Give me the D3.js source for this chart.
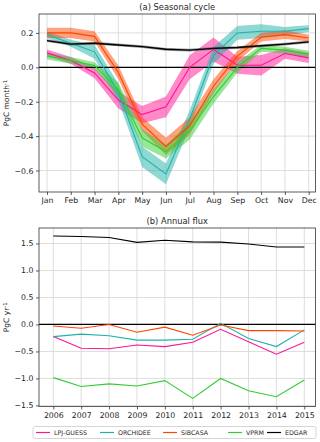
<!DOCTYPE html>
<html><head><meta charset="utf-8">
<script src="https://cdn.jsdelivr.net/npm/d3@7"></script>
<style>body{margin:0;background:#fff}svg{display:block;font-family:"DejaVu Sans",sans-serif}</style>
</head><body><svg id="c" width="320" height="442"></svg>
<script>
const months = ["Jan","Feb","Mar","Apr","May","Jun","Jul","Aug","Sep","Oct","Nov","Dec"];
const years = [2006,2007,2008,2009,2010,2011,2012,2013,2014,2015];
const seriesNames = ["LPJ-GUESS","ORCHIDEE","SiBCASA","VPRM","EDGAR"];
const seriesColors = ["#ff1493","#20b2aa","#ff4500","#32cd32","#000000"];

// (a) seasonal mean
const lpjSeason   = [0.084,0.04,-0.033,-0.19,-0.275,-0.23,0.0,0.104,0.012,0.012,0.08,0.055];
const orchSeason  = [0.19,0.14,0.09,-0.145,-0.52,-0.62,-0.30,0.07,0.20,0.21,0.21,0.225];
const sibSeason   = [0.20,0.20,0.18,-0.03,-0.33,-0.46,-0.34,-0.11,0.065,0.175,0.19,0.17];
const vprmSeason  = [0.065,0.04,0.01,-0.13,-0.41,-0.49,-0.37,-0.17,0.0,0.11,0.10,0.076];
const edgarSeason = [0.155,0.135,0.14,0.13,0.12,0.105,0.10,0.11,0.115,0.125,0.135,0.148];
// (a) band half-widths
const lpjSpread   = [0.02,0.02,0.03,0.05,0.05,0.06,0.07,0.07,0.05,0.06,0.03,0.03];
const orchSpread  = [0.02,0.02,0.04,0.05,0.06,0.06,0.05,0.05,0.04,0.04,0.025,0.02];
const sibSpread   = [0.03,0.03,0.03,0.04,0.04,0.05,0.05,0.04,0.03,0.025,0.025,0.02];
const vprmSpread  = [0.02,0.02,0.02,0.04,0.05,0.04,0.05,0.04,0.03,0.02,0.02,0.02];
const edgarSpread = [0.008,0.008,0.008,0.008,0.008,0.008,0.008,0.008,0.008,0.008,0.008,0.008];

// (b) annual flux
const lpjAnnual   = [-0.225,-0.44,-0.45,-0.38,-0.41,-0.33,-0.09,-0.32,-0.55,-0.33];
const orchAnnual  = [-0.225,-0.18,-0.21,-0.29,-0.29,-0.275,0.02,-0.26,-0.41,-0.10];
const sibAnnual   = [-0.03,-0.07,0.0,-0.145,-0.05,-0.20,-0.01,-0.115,-0.115,-0.12];
const vprmAnnual  = [-0.985,-1.15,-1.10,-1.14,-1.04,-1.37,-1.00,-1.23,-1.34,-1.03];
const edgarAnnual = [1.64,1.63,1.61,1.52,1.56,1.53,1.525,1.49,1.435,1.435];

const ticksA = [-0.6,-0.4,-0.2,0.0,0.2];
const ticksB = [-1.5,-1.0,-0.5,0.0,0.5,1.0,1.5];

const svg = d3.select("#c");
const L = 39, R = 315.5;
const gridCol = "#d9d9d9", spineCol = "#333";

function panel(opts){
  const g = svg.append("g");
  const {x, y, xTicks, yTicks, top, bottom} = opts;
  g.selectAll(".vg").data(xTicks).join("line")
    .attr("x1",d=>x(d)).attr("x2",d=>x(d)).attr("y1",top).attr("y2",bottom)
    .attr("stroke",gridCol).attr("stroke-width",0.9);
  g.selectAll(".hg").data(yTicks).join("line")
    .attr("x1",L).attr("x2",R).attr("y1",d=>y(d)).attr("y2",d=>y(d))
    .attr("stroke",gridCol).attr("stroke-width",0.9);
  return g;
}
function axes(g, opts){
  const {x, y, xTicks, xFmt, yTicks, yFmt, top, bottom} = opts;
  const ax = d3.axisBottom(x).tickValues(xTicks).tickFormat(xFmt).tickSize(3).tickPadding(2.5);
  const gx = g.append("g").attr("transform",`translate(0,${bottom})`).call(ax);
  const ay = d3.axisLeft(y).tickValues(yTicks).tickFormat(yFmt).tickSize(3).tickPadding(2.5);
  const gy = g.append("g").attr("transform",`translate(${L},0)`).call(ay);
  [gx,gy].forEach(a=>{
    a.select(".domain").remove();
    a.selectAll("line").attr("stroke",spineCol).attr("stroke-width",0.8);
    a.selectAll("text").attr("fill","#262626").style("font-size","7.8px").style("font-family","DejaVu Sans");
  });
  g.append("rect").attr("x",L).attr("y",top).attr("width",R-L).attr("height",bottom-top)
    .attr("fill","none").attr("stroke",spineCol).attr("stroke-width",0.8);
}

// ---- Panel (a)
const topA = 14, botA = 192;
const xA = d3.scaleLinear().domain([0,11]).range([47,308.7]);
const yA = d3.scaleLinear().domain([-0.725,0.31]).range([botA,topA]);
const optsA = {x:xA,y:yA,xTicks:d3.range(12),xFmt:i=>months[i],yTicks:ticksA,yFmt:d3.format(".1f"),top:topA,bottom:botA};
const gA = panel(optsA);
const seasonMeans = [lpjSeason,orchSeason,sibSeason,vprmSeason,edgarSeason];
const seasonSpreads = [lpjSpread,orchSpread,sibSpread,vprmSpread,edgarSpread];
svg.append("clipPath").attr("id","clipA").append("rect").attr("x",L).attr("y",topA).attr("width",R-L).attr("height",botA-topA);
const plotA = gA.append("g").attr("clip-path","url(#clipA)");
seasonMeans.forEach((m,k)=>{
  const area = d3.area().x((d,i)=>xA(i)).y0((d,i)=>yA(d-seasonSpreads[k][i])).y1((d,i)=>yA(d+seasonSpreads[k][i]));
  plotA.append("path").datum(m).attr("d",area)
    .attr("fill",k===4?"#555":seriesColors[k]).attr("fill-opacity",k===4?0.6:0.5).attr("stroke","none");
});
plotA.append("line").attr("x1",L).attr("x2",R).attr("y1",yA(0)).attr("y2",yA(0)).attr("stroke","#000").attr("stroke-width",1.2);
seasonMeans.forEach((m,k)=>{
  const line = d3.line().x((d,i)=>xA(i)).y(d=>yA(d));
  plotA.append("path").datum(m).attr("d",line).attr("fill","none")
    .attr("stroke",seriesColors[k]).attr("stroke-width",k===4?1.4:1.1);
});
axes(gA,optsA);
svg.append("text").attr("x",(L+R)/2).attr("y",10).attr("text-anchor","middle")
  .style("font-size","8.3px").attr("fill","#262626").text("(a) Seasonal cycle");
const ylA = svg.append("text").attr("transform",`translate(9,${(topA+botA)/2}) rotate(-90)`)
  .attr("text-anchor","middle").style("font-size","7.5px").attr("fill","#262626");
ylA.append("tspan").text("PgC month");
ylA.append("tspan").attr("dy",-2.5).style("font-size","5.5px").text("-1");

// ---- Panel (b)
const topB = 228, botB = 406.5;
const xB = d3.scaleLinear().domain([2006,2015]).range([53.3,304.3]);
const yB = d3.scaleLinear().domain([-1.52,1.787]).range([botB,topB]);
const optsB = {x:xB,y:yB,xTicks:years,xFmt:d=>String(d),yTicks:ticksB,yFmt:d3.format(".1f"),top:topB,bottom:botB};
const gB = panel(optsB);
const annual = [lpjAnnual,orchAnnual,sibAnnual,vprmAnnual,edgarAnnual];
gB.append("line").attr("x1",L).attr("x2",R).attr("y1",yB(0)).attr("y2",yB(0)).attr("stroke","#000").attr("stroke-width",1.2);
annual.forEach((m,k)=>{
  const line = d3.line().x((d,i)=>xB(years[i])).y(d=>yB(d));
  gB.append("path").datum(m).attr("d",line).attr("fill","none")
    .attr("stroke",seriesColors[k]).attr("stroke-width",1.1);
});
axes(gB,optsB);
svg.append("text").attr("x",(L+R)/2).attr("y",224).attr("text-anchor","middle")
  .style("font-size","8.3px").attr("fill","#262626").text("(b) Annual flux");
const ylB = svg.append("text").attr("transform",`translate(9,${(topB+botB)/2}) rotate(-90)`)
  .attr("text-anchor","middle").style("font-size","7.5px").attr("fill","#262626");
ylB.append("tspan").text("PgC yr");
ylB.append("tspan").attr("dy",-2.5).style("font-size","5.5px").text("-1");

// ---- Legend
const leg = svg.append("g");
leg.append("rect").attr("x",33).attr("y",426.5).attr("width",283).attr("height",12).attr("rx",2)
  .attr("fill","#fff").attr("stroke","#ccc").attr("stroke-width",0.8);
const legX = [36,100,163,228,267];
seriesNames.forEach((n,k)=>{
  leg.append("line").attr("x1",legX[k]).attr("x2",legX[k]+14).attr("y1",432.5).attr("y2",432.5)
    .attr("stroke",seriesColors[k]).attr("stroke-width",1.2);
  leg.append("text").attr("x",legX[k]+18).attr("y",434.8).style("font-size","6.3px")
    .attr("fill","#262626").text(n);
});
</script></body></html>
